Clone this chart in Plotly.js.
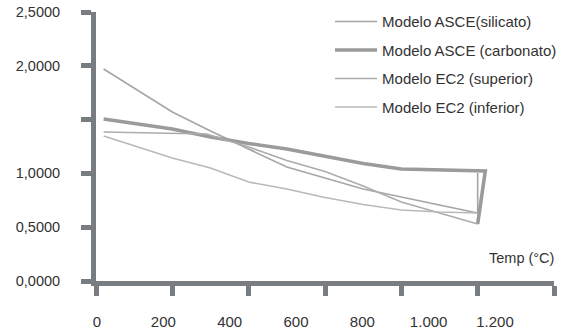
<!DOCTYPE html>
<html>
<head>
<meta charset="utf-8">
<script src="https://cdn.plot.ly/plotly-3.0.1.min.js"></script>
<style>
  html, body { margin: 0; padding: 0; background: #ffffff; }
  #chart { width: 563px; height: 334px; }
</style>
</head>
<body>
<div id="chart"></div>
<script>
// ---- data (temperature in °C) ----
const seriesNames = [
  'Modelo ASCE(silicato)',
  'Modelo ASCE (carbonato)',
  'Modelo EC2 (superior)',
  'Modelo EC2 (inferior)'
];

const silicatoX = [20, 200, 300, 400, 500, 600, 700, 800, 900, 1000, 1000];
const silicatoY = [1.970, 1.571, 1.394, 1.227, 1.059, 0.957, 0.855, 0.781, 0.706, 0.632, 1.004];

const carbonatoX = [20, 200, 300, 400, 500, 600, 700, 800, 900, 1020, 1000];
const carbonatoY = [1.506, 1.413, 1.338, 1.278, 1.227, 1.157, 1.092, 1.041, 1.031, 1.022, 0.530];

const superiorX = [20, 100, 200, 290, 400, 500, 600, 700, 800, 900, 1000];
const superiorY = [1.385, 1.380, 1.375, 1.366, 1.245, 1.120, 1.018, 0.883, 0.734, 0.632, 0.530];

const inferiorX = [20, 200, 300, 400, 500, 600, 700, 800, 900, 1000];
const inferiorY = [1.348, 1.143, 1.050, 0.920, 0.855, 0.776, 0.711, 0.660, 0.641, 0.632];

const xTickVals = [0, 200, 400, 600, 800, 1000, 1200];
const xTickText = ['0', '200', '400', '600', '800', '1.000', '1.200'];
const yTickVals = [0, 0.5, 1, 1.5, 2, 2.5];
const yTickText = ['0,0000', '0,5000', '1,0000', '', '2,0000', '2,5000'];
const xTitle = 'Temp (°C)';

// ---- styles ----
const axisColor = '#777d80';
const textColor = '#333333';
const fontFamily = 'Liberation Sans, Arial, sans-serif';

const lineStyles = [
  { color: '#a6a6a6', width: 1.6 },
  { color: '#9b9b9b', width: 3.6 },
  { color: '#acacac', width: 1.6 },
  { color: '#b9b9b9', width: 1.6 }
];

const xs = [silicatoX, carbonatoX, superiorX, inferiorX];
const ys = [silicatoY, carbonatoY, superiorY, inferiorY];

const traces = seriesNames.map((name, i) => ({
  type: 'scatter',
  mode: 'lines',
  name: name,
  x: xs[i],
  y: ys[i],
  legendgroup: 'g' + i,
  line: { color: lineStyles[i].color, width: lineStyles[i].width, shape: 'linear' },
  hoverinfo: 'skip'
}));

// empty helper trace so the label axis (x2) is laid out
traces.push({
  type: 'scatter', mode: 'lines', x: [], y: [],
  xaxis: 'x2', yaxis: 'y', showlegend: false, hoverinfo: 'skip'
});

const layout = {
  width: 563,
  height: 334,
  paper_bgcolor: '#ffffff',
  plot_bgcolor: '#ffffff',
  margin: { l: 96, r: 9, t: 12, b: 53, pad: 0, autoexpand: false },
  font: { family: fontFamily, color: textColor, size: 14.5 },
  showlegend: true,
  legend: {
    x: 0.511, y: 1.025, xanchor: 'left', yanchor: 'top',
    bgcolor: 'rgba(0,0,0,0)',
    font: { family: fontFamily, size: 15, color: textColor },
    tracegroupgap: 6,
    itemwidth: 42,
    itemclick: false
  },
  xaxis: {
    range: [0, 1200],
    tickmode: 'array',
    tickvals: xTickVals,
    showticklabels: false,
    ticks: 'outside', ticklen: 10, tickwidth: 5, tickcolor: axisColor,
    showline: true, linewidth: 5, linecolor: axisColor,
    showgrid: false, zeroline: false, fixedrange: true
  },
  xaxis2: {
    overlaying: 'x', anchor: 'y', side: 'bottom',
    range: [-3, 1378],
    tickmode: 'array',
    tickvals: xTickVals,
    ticktext: xTickText,
    ticks: '', showline: false, showgrid: false, zeroline: false,
    ticklabelstandoff: 30,
    tickfont: { family: fontFamily, size: 15, color: textColor },
    fixedrange: true
  },
  yaxis: {
    range: [0, 2.5],
    tickmode: 'array',
    tickvals: yTickVals,
    ticktext: yTickText,
    ticks: 'outside', ticklen: 10, tickwidth: 5, tickcolor: axisColor,
    showline: true, linewidth: 5, linecolor: axisColor,
    ticklabelstandoff: 18,
    tickfont: { family: fontFamily, size: 14.5, color: textColor },
    showgrid: false, zeroline: false, fixedrange: true
  },
  annotations: [{
    text: xTitle,
    xref: 'paper', yref: 'paper',
    x: 1.004, y: 0.0855,
    xanchor: 'right', yanchor: 'middle',
    showarrow: false,
    font: { family: fontFamily, size: 14.5, color: textColor }
  }]
};

Plotly.newPlot('chart', traces, layout, { displayModeBar: false, staticPlot: true });
</script>
</body>
</html>
